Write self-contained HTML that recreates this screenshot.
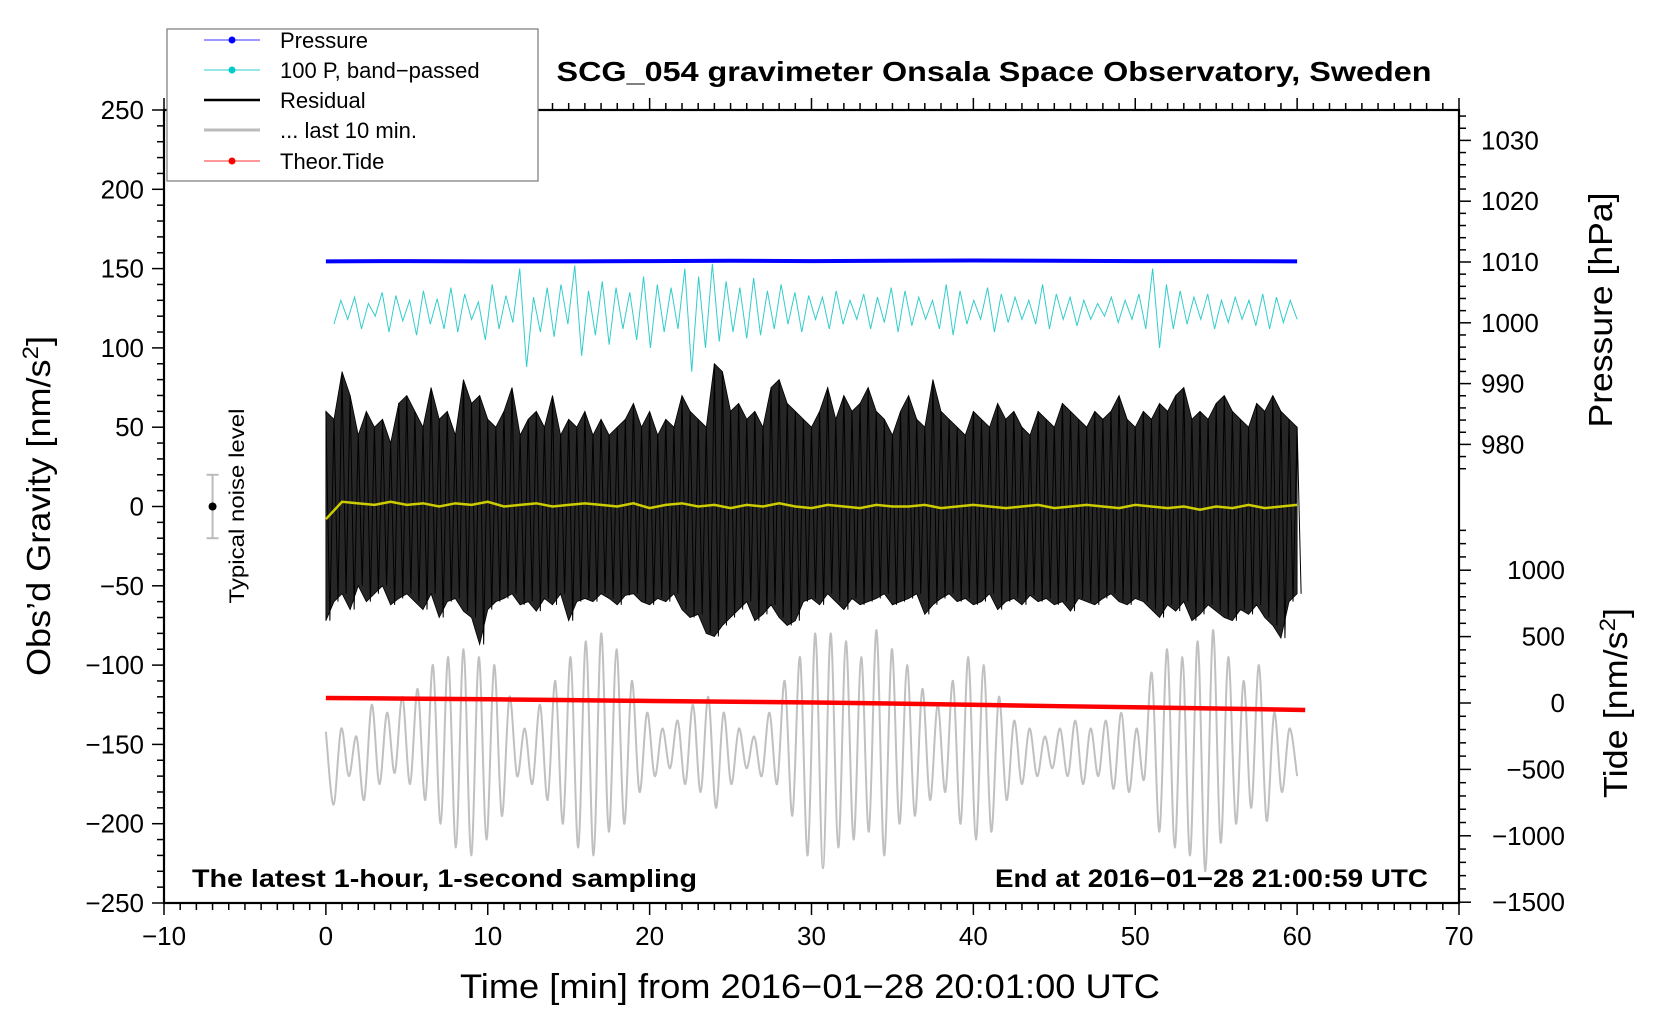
<!DOCTYPE html>
<html><head><meta charset="utf-8">
<style>
html,body{margin:0;padding:0;background:#fff;}
svg{display:block;font-family:"Liberation Sans",Arial,sans-serif;}
</style></head>
<body>
<svg id="chart" width="1660" height="1020" viewBox="0 0 1660 1020" xmlns="http://www.w3.org/2000/svg">
<rect width="1660" height="1020" fill="#fff"/>
<g id="marks"></g>
<g id="axes"></g>
<text x="994" y="81" text-anchor="middle" font-size="28" font-weight="bold" textLength="875" lengthAdjust="spacingAndGlyphs">SCG_054 gravimeter Onsala Space Observatory, Sweden</text>
<text transform="translate(50,506) rotate(-90)" text-anchor="middle" font-size="33" textLength="340" lengthAdjust="spacingAndGlyphs">Obs’d Gravity [nm/s<tspan baseline-shift="super" font-size="22">2</tspan>]</text>
<text x="810" y="998" text-anchor="middle" font-size="34" textLength="700" lengthAdjust="spacingAndGlyphs">Time [min] from 2016−01−28 20:01:00 UTC</text>
<text transform="translate(1612,310) rotate(-90)" text-anchor="middle" font-size="33" textLength="235" lengthAdjust="spacingAndGlyphs">Pressure [hPa]</text>
<text transform="translate(1627,703) rotate(-90)" text-anchor="middle" font-size="33" textLength="190" lengthAdjust="spacingAndGlyphs">Tide [nm/s<tspan baseline-shift="super" font-size="22">2</tspan>]</text>
<text x="192" y="887" font-size="25" font-weight="bold" textLength="505" lengthAdjust="spacingAndGlyphs">The latest 1-hour, 1-second sampling</text>
<text x="1428" y="887" text-anchor="end" font-size="25" font-weight="bold" textLength="433" lengthAdjust="spacingAndGlyphs">End at 2016−01−28 21:00:59 UTC</text>
<text transform="translate(244,506) rotate(-90)" text-anchor="middle" font-size="21" textLength="195" lengthAdjust="spacingAndGlyphs">Typical noise level</text>
<g>
<rect x="167" y="29" width="371" height="152" fill="#fff" stroke="#777" stroke-width="1.2"/>
<g><line x1="204" y1="40" x2="260" y2="40" stroke="#33f" stroke-width="1"/><circle cx="232" cy="40" r="3.5" fill="#00f"/><text x="280" y="48" font-size="22">Pressure</text></g>
<g><line x1="204" y1="70" x2="260" y2="70" stroke="#3cc" stroke-width="1"/><circle cx="232" cy="70" r="3.5" fill="#0cc"/><text x="280" y="78" font-size="22">100 P, band−passed</text></g>
<g><line x1="204" y1="100" x2="260" y2="100" stroke="#000" stroke-width="2.5"/><text x="280" y="108" font-size="22">Residual</text></g>
<g><line x1="204" y1="130" x2="260" y2="130" stroke="#bbb" stroke-width="3"/><text x="280" y="138" font-size="22">... last 10 min.</text></g>
<g><line x1="204" y1="161" x2="260" y2="161" stroke="#f33" stroke-width="1"/><circle cx="232" cy="161" r="3.5" fill="#f00"/><text x="280" y="169" font-size="22">Theor.Tide</text></g>
</g>
</svg>
<script>
// ---- data ----
const pressure = [1010.1,1010.15,1010.1,1010.1,1010.15,1010.2,1010.15,1010.2,1010.25,1010.2,1010.15,1010.15,1010.1];
const tide = [38,33,28,22,15,9,4,-5,-14,-24,-33,-42,-53];
const resHi = [60,55,85,70,45,60,50,55,40,65,70,60,50,75,55,60,45,80,65,70,55,50,60,75,45,55,60,50,70,45,55,50,60,45,55,45,50,55,65,50,60,45,55,50,70,60,55,50,90,85,60,65,55,60,50,75,80,65,60,55,50,60,75,55,70,60,65,75,60,55,45,60,70,55,50,80,60,55,50,45,60,55,50,65,55,60,50,45,60,55,50,65,60,55,50,60,55,60,70,55,50,60,55,65,60,70,75,55,60,55,65,70,60,55,50,65,60,70,60,55,50];
const resLo = [-72,-60,-55,-65,-50,-60,-55,-50,-62,-58,-55,-60,-65,-55,-70,-60,-58,-66,-70,-87,-65,-60,-58,-55,-62,-60,-66,-58,-62,-55,-72,-60,-58,-60,-55,-58,-62,-56,-55,-60,-62,-58,-60,-55,-65,-70,-68,-80,-82,-75,-70,-65,-60,-72,-68,-62,-70,-75,-72,-60,-58,-62,-55,-60,-65,-58,-62,-60,-58,-55,-62,-60,-58,-55,-68,-62,-58,-55,-60,-58,-62,-60,-55,-65,-60,-58,-62,-56,-60,-58,-62,-60,-66,-58,-60,-62,-58,-55,-60,-62,-58,-60,-65,-70,-62,-66,-60,-72,-68,-62,-66,-70,-72,-65,-68,-62,-70,-75,-83,-60,-55];
const yellow = [-8,3,2,1,3,1,2,0,2,1,3,0,1,2,0,1,2,1,0,2,-1,1,2,0,1,-1,1,0,2,0,-1,1,0,-1,1,0,0,1,-1,0,1,0,-1,0,1,-1,0,1,0,-1,1,0,-1,0,-2,0,-1,1,-1,0,1];
const cyan = [115,130,118,132,112,128,120,135,110,133,117,130,108,136,115,131,112,138,110,134,118,129,105,140,112,133,116,150,88,132,110,138,107,140,115,152,95,136,108,142,102,138,112,135,105,145,100,140,110,138,112,150,85,145,100,153,104,142,110,138,106,144,108,136,112,140,115,135,110,133,118,132,112,136,115,130,118,134,112,132,116,138,110,136,114,132,118,130,112,140,108,136,115,130,118,138,110,134,116,132,118,130,115,140,112,134,118,132,114,130,118,128,120,132,116,130,118,134,112,150,100,140,112,136,115,132,118,134,112,130,116,132,118,130,114,134,112,132,116,130,118];
const gray = [-142,-188,-140,-170,-145,-185,-125,-175,-130,-168,-120,-175,-115,-185,-100,-200,-95,-215,-90,-220,-95,-210,-100,-195,-120,-170,-140,-175,-125,-185,-110,-200,-95,-215,-85,-220,-80,-205,-90,-200,-110,-180,-130,-170,-140,-165,-135,-175,-125,-180,-120,-190,-130,-175,-140,-165,-145,-170,-130,-175,-110,-195,-95,-220,-80,-228,-80,-215,-85,-210,-95,-205,-78,-220,-90,-200,-100,-195,-115,-185,-125,-180,-110,-200,-95,-210,-100,-205,-120,-185,-135,-175,-140,-170,-145,-165,-140,-170,-135,-175,-140,-170,-135,-178,-130,-180,-140,-172,-105,-205,-90,-215,-95,-220,-85,-230,-78,-212,-95,-200,-110,-190,-100,-198,-130,-180,-140,-170];
const xTicks = [-10,0,10,20,30,40,50,60,70];
const yTicks = [250,200,150,100,50,0,-50,-100,-150,-200,-250];
const pTicks = [980,990,1000,1010,1020,1030];
const tTicks = [-1500,-1000,-500,0,500,1000];

// ---- scales ----
const L=164,R=1459,T=110,B=903;
const X=v=>L+(v+10)*(R-L)/80;
const Y=v=>T+(250-v)*(B-T)/500;
const PY=v=>262-(v-1010)*6.08;
const TY=v=>703-v*66.4/500;
const NS='http://www.w3.org/2000/svg';
const marks=document.getElementById('marks'), axes=document.getElementById('axes');
function mk(tag,attrs,parent){const e=document.createElementNS(NS,tag);for(const k in attrs)e.setAttribute(k,attrs[k]);parent.appendChild(e);return e;}
const tOf=(i,n,a,b)=>a+i*(b-a)/(n-1);

// gray last 10 min (smooth)
{let pts=gray.map((v,i)=>[X(tOf(i,gray.length,0,60)),Y(v)]);
 let d='M'+pts[0][0]+','+pts[0][1];
 for(let i=0;i<pts.length-1;i++){const p0=pts[Math.max(0,i-1)],p1=pts[i],p2=pts[i+1],p3=pts[Math.min(pts.length-1,i+2)];
  d+=` C${p1[0]+(p2[0]-p0[0])/6},${p1[1]+(p2[1]-p0[1])/6} ${p2[0]-(p3[0]-p1[0])/6},${p2[1]-(p3[1]-p1[1])/6} ${p2[0]},${p2[1]}`;}
 const e=mk('path',{d,fill:'none',stroke:'#c0c0c0','stroke-width':2},marks);
 
 }

// residual band
{const n=resHi.length;let pts=[];
 for(let i=0;i<n;i++)pts.push(X(tOf(i,n,0,60))+','+Y(resHi[i]));
 for(let i=n-1;i>=0;i--)pts.push(X(tOf(i,n,0,60))+','+Y(resLo[i]));
 const e=mk('polygon',{points:pts.join(' '),fill:'#262626',stroke:'#000','stroke-width':0.8},marks);
 
 
 let z=[];for(let i=0;i<n;i++){const t=tOf(i,n,0,60);z.push(X(t)+','+Y(resHi[i]));z.push((X(t)+4)+','+Y(resLo[i]));}
 const e2=mk('polyline',{points:z.join(' '),fill:'none',stroke:'#000','stroke-width':1},marks);
 
 }

// yellow smoothed residual
{const e=mk('polyline',{points:yellow.map((v,i)=>X(tOf(i,yellow.length,0,60))+','+Y(v)).join(' '),fill:'none',stroke:'#cccc00','stroke-width':2.5},marks);
 
 }

// cyan band-passed pressure
{const e=mk('polyline',{points:cyan.map((v,i)=>X(tOf(i,cyan.length,0.5,60))+','+Y(v)).join(' '),fill:'none',stroke:'#33cccc','stroke-width':1},marks);
 
 }

// pressure
{const e=mk('polyline',{points:pressure.map((v,i)=>X(tOf(i,pressure.length,0,60))+','+PY(v)).join(' '),fill:'none',stroke:'#0000ff','stroke-width':4},marks);
 
 }

// tide
{const e=mk('polyline',{points:tide.map((v,i)=>X(tOf(i,tide.length,0,60.5))+','+TY(v)).join(' '),fill:'none',stroke:'#ff0000','stroke-width':4.5},marks);
 
 }

// noise indicator
{const g=mk('g',{},marks);
 
 
 const x=X(-7);
 mk('line',{x1:x,y1:Y(20),x2:x,y2:Y(-20),stroke:'#bbb','stroke-width':2},g);
 mk('line',{x1:x-6,y1:Y(20),x2:x+6,y2:Y(20),stroke:'#bbb','stroke-width':2},g);
 mk('line',{x1:x-6,y1:Y(-20),x2:x+6,y2:Y(-20),stroke:'#bbb','stroke-width':2},g);
 mk('circle',{cx:x,cy:Y(0),r:4,fill:'#000'},g);}

// axes frame
{const e=mk('rect',{x:L,y:T,width:R-L,height:B-T,fill:'none',stroke:'#000','stroke-width':2.2},axes);
 
 }
// x ticks
for(let m=-10;m<=70;m++){const big=m%10===0;
 mk('line',{x1:X(m),y1:B,x2:X(m),y2:B+(big?12:7),stroke:'#000','stroke-width':1.5},axes);
 mk('line',{x1:X(m),y1:T,x2:X(m),y2:T-(big?12:7),stroke:'#000','stroke-width':1.5},axes);}
xTicks.forEach(v=>{const e=mk('text',{x:X(v),y:B+42,'text-anchor':'middle','font-size':26},axes);e.textContent=String(v).replace('-','−');
 
 });
// left ticks
for(let v=-250;v<=250;v+=10){const big=v%50===0;mk('line',{x1:L,y1:Y(v),x2:L-(big?12:7),y2:Y(v),stroke:'#000','stroke-width':1.5},axes);}
yTicks.forEach(v=>{const e=mk('text',{x:L-20,y:Y(v)+9,'text-anchor':'end','font-size':26},axes);e.textContent=String(v).replace('-','−');
 
 });
// pressure ticks
for(let v=976;v<=1036;v+=2){const big=v%10===0;const y=PY(v);if(y<T)continue;mk('line',{x1:R,y1:y,x2:R+(big?12:7),y2:y,stroke:'#000','stroke-width':1.5},axes);}
pTicks.forEach(v=>{const e=mk('text',{x:R+22,y:PY(v)+9,'font-size':26},axes);e.textContent=v;
 
 });
// tide ticks
for(let v=-1500;v<=1300;v+=100){const big=v%500===0;const y=TY(v);mk('line',{x1:R,y1:y,x2:R+(big?12:7),y2:y,stroke:'#000','stroke-width':1.5},axes);}
tTicks.forEach(v=>{const e=mk('text',{x:R+106,y:TY(v)+9,'text-anchor':'end','font-size':26},axes);e.textContent=String(v).replace('-','−');
 
 });
</script>
</body></html>
